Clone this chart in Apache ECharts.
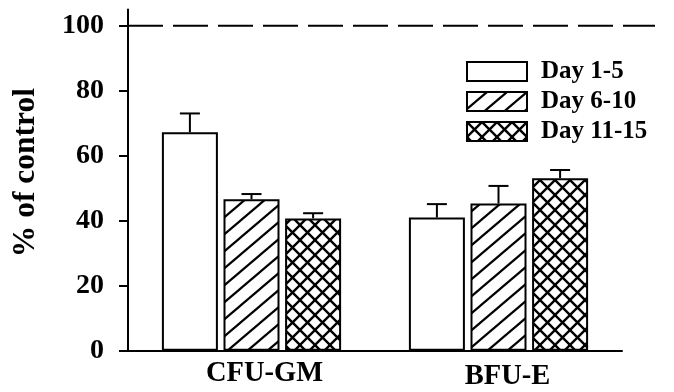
<!DOCTYPE html>
<html>
<head>
<meta charset="utf-8">
<script src="https://cdn.jsdelivr.net/npm/echarts@6/dist/echarts.min.js"></script>
<style>html,body{margin:0;padding:0;background:#fff}#c{width:674px;height:392px}</style>
</head>
<body>
<div id="c"></div>
<script>
// ---- data ----
const categories = ['CFU-GM', 'BFU-E'];
const seriesNames = ['Day 1-5', 'Day 6-10', 'Day 11-15'];
const day1to5 = [67.2, 41.0];
const day6to10 = [46.6, 45.3];
const day11to15 = [40.7, 53.1];
const err1to5 = [5.8, 4.1];
const err6to10 = [1.6, 5.4];
const err11to15 = [1.6, 2.5];
const yTicks = [0, 20, 40, 60, 80, 100];
const controlLevel = 100;

const values = [day1to5, day6to10, day11to15];
const errors = [err1to5, err6to10, err11to15];

// ---- patterns ----
function emptyPattern() {
  const c = document.createElement('canvas'); c.width = 4; c.height = 4;
  const g = c.getContext('2d'); g.fillStyle = '#fff'; g.fillRect(0, 0, 4, 4);
  return c;
}
function hatchPattern() {
  const W = 20, H = 17;
  const c = document.createElement('canvas'); c.width = W; c.height = H;
  const g = c.getContext('2d'); g.fillStyle = '#fff'; g.fillRect(0, 0, W, H);
  g.strokeStyle = '#000'; g.lineWidth = 2.2;
  for (let k = -1; k <= 1; k++) {
    g.beginPath(); g.moveTo(k * W - W, 2 * H); g.lineTo(k * W + 2 * W, -H); g.stroke();
  }
  return c;
}
function crossPattern() {
  const S = 15;
  const c = document.createElement('canvas'); c.width = S; c.height = S;
  const g = c.getContext('2d'); g.fillStyle = '#fff'; g.fillRect(0, 0, S, S);
  g.strokeStyle = '#000'; g.lineWidth = 2.4;
  for (let k = -1; k <= 1; k++) {
    g.beginPath(); g.moveTo(k * S - S, -S); g.lineTo(k * S + 2 * S, 2 * S); g.stroke();
    g.beginPath(); g.moveTo(k * S - S, 2 * S); g.lineTo(k * S + 2 * S, -S); g.stroke();
  }
  return c;
}
const patterns = [emptyPattern(), hatchPattern(), crossPattern()];

const FONT = '"Liberation Serif", "Times New Roman", serif';
const BAR_W = 56, BAR_GAP = '10%';

const series = [];
values.forEach((vals, i) => {
  series.push({
    name: seriesNames[i],
    type: 'bar',
    data: vals,
    barWidth: BAR_W,
    barGap: BAR_GAP,
    itemStyle: {
      color: { image: patterns[i], repeat: 'repeat' },
      borderColor: '#000',
      borderWidth: 2
    },
    emphasis: { disabled: true },
    silent: true,
    z: 2
  });
});
errors.forEach((errs, i) => {
  series.push({
    name: 'err' + i,
    type: 'custom',
    silent: true,
    z: 3,
    data: errs.map((e, j) => [j, values[i][j], values[i][j] + e]),
    renderItem: function (params, api) {
      const layout = api.barLayout({ count: 3, barWidth: BAR_W, barGap: BAR_GAP });
      const off = layout[i].offsetCenter;
      const base = api.coord([api.value(0), api.value(1)]);
      const top = api.coord([api.value(0), api.value(2)]);
      const x = base[0] + off;
      const st = { stroke: '#000', lineWidth: 2 };
      return {
        type: 'group',
        children: [
          { type: 'line', shape: { x1: x, y1: base[1], x2: x, y2: top[1] }, style: st },
          { type: 'line', shape: { x1: x - 10, y1: top[1], x2: x + 10, y2: top[1] }, style: st }
        ]
      };
    }
  });
});

const chart = echarts.init(document.getElementById('c'), null, { renderer: 'canvas' });
chart.setOption({
  animation: false,
  backgroundColor: '#fff',
  grid: { left: 128, right: 52, top: 9.45, bottom: 41.3, containLabel: false },
  legend: {
    data: seriesNames,
    orient: 'vertical',
    left: 466,
    top: 59,
    itemWidth: 60,
    itemHeight: 19,
    itemGap: 5,
    icon: 'rect',
    padding: 0,
    selectedMode: false,
    textStyle: { fontFamily: FONT, fontWeight: 'bold', fontSize: 25, color: '#000', padding: [0, 0, 0, 9] }
  },
  xAxis: {
    type: 'category',
    data: categories,
    axisTick: { show: false },
    axisLine: { lineStyle: { color: '#000', width: 2 } },
    axisLabel: {
      margin: 8,
      formatter: function (v, idx) { return '{c' + idx + '|' + v + '}'; },
      rich: {
        c0: { fontFamily: FONT, fontWeight: 'bold', fontSize: 28.5, color: '#000', padding: [0, 0, 0, 26] },
        c1: { fontFamily: FONT, fontWeight: 'bold', fontSize: 28.5, color: '#000', padding: [3, 0, 0, 18] }
      }
    }
  },
  yAxis: {
    type: 'value',
    min: 0,
    max: 105,
    interval: 20,
    name: '% of control',
    nameLocation: 'middle',
    nameGap: 86,
    nameTextStyle: { fontFamily: FONT, fontWeight: 'bold', fontSize: 31.5, color: '#000', padding: [0, 0, 0, 15] },
    splitLine: { show: false },
    axisLine: { show: true, lineStyle: { color: '#000', width: 2 } },
    axisTick: { show: true, length: 9, lineStyle: { color: '#000', width: 2 }, customValues: yTicks },
    axisLabel: { margin: 24, fontFamily: FONT, fontWeight: 'bold', fontSize: 28, color: '#000', customValues: yTicks }
  },
  series: series
});

const yRef = chart.convertToPixel({ yAxisIndex: 0 }, controlLevel);
chart.setOption({
  graphic: [{
    type: 'line',
    silent: true,
    z: 10,
    shape: { x1: 128, y1: yRef, x2: 655, y2: yRef },
    style: { stroke: '#000', lineWidth: 2, lineDash: [35, 10] }
  }]
});
</script>
</body>
</html>
